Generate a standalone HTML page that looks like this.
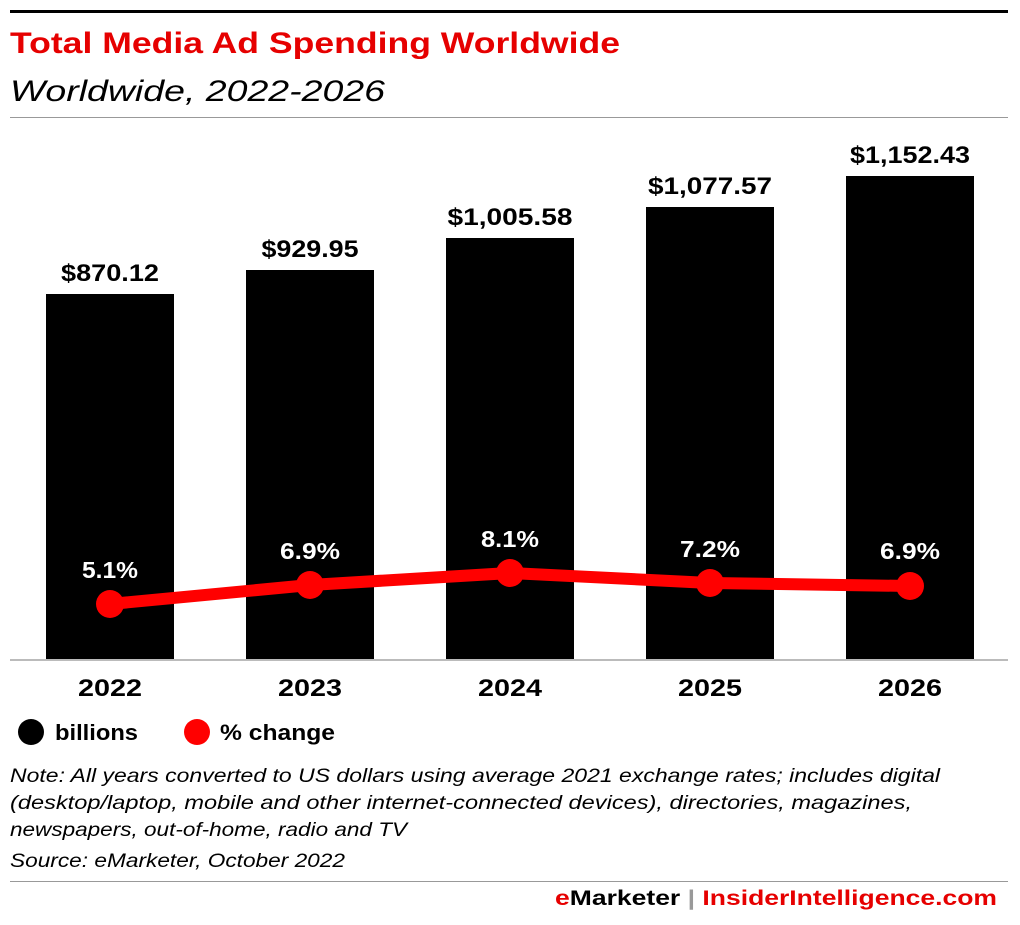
<!DOCTYPE html>
<html><head><meta charset="utf-8"><style>
body{margin:0;background:#fff;width:1020px;height:920px;overflow:hidden;font-family:"Liberation Sans",sans-serif}
</style></head><body>
<svg width="1020" height="920" xmlns="http://www.w3.org/2000/svg" font-family="Liberation Sans, sans-serif">
<rect x="10" y="10" width="998" height="3" fill="#000"/>
<text x="10" y="53" font-size="30" font-weight="bold" fill="#e60000" textLength="610" lengthAdjust="spacingAndGlyphs">Total Media Ad Spending Worldwide</text>
<text x="10" y="101" font-size="30" font-style="italic" fill="#000" textLength="375" lengthAdjust="spacingAndGlyphs">Worldwide, 2022-2026</text>
<rect x="10" y="117" width="998" height="1" fill="#999"/>
<g fill="#000">
<rect x="46" y="294" width="128" height="366"/>
<rect x="246" y="270" width="128" height="390"/>
<rect x="446" y="238" width="128" height="422"/>
<rect x="646" y="207" width="128" height="453"/>
<rect x="846" y="176" width="128" height="484"/>
</g>
<rect x="10" y="659" width="998" height="2" fill="#bbb"/>
<g font-size="24" font-weight="bold" text-anchor="middle" fill="#000">
<text x="110" y="281" textLength="98" lengthAdjust="spacingAndGlyphs">$870.12</text>
<text x="310" y="257" textLength="97" lengthAdjust="spacingAndGlyphs">$929.95</text>
<text x="510" y="225" textLength="125" lengthAdjust="spacingAndGlyphs">$1,005.58</text>
<text x="710" y="194" textLength="124" lengthAdjust="spacingAndGlyphs">$1,077.57</text>
<text x="910" y="163" textLength="120" lengthAdjust="spacingAndGlyphs">$1,152.43</text>
<text x="110" y="696" textLength="64" lengthAdjust="spacingAndGlyphs">2022</text>
<text x="310" y="696" textLength="64" lengthAdjust="spacingAndGlyphs">2023</text>
<text x="510" y="696" textLength="64" lengthAdjust="spacingAndGlyphs">2024</text>
<text x="710" y="696" textLength="64" lengthAdjust="spacingAndGlyphs">2025</text>
<text x="910" y="696" textLength="64" lengthAdjust="spacingAndGlyphs">2026</text>
</g>
<polyline points="110,604 310,585 510,573 710,583 910,586" fill="none" stroke="#ff0000" stroke-width="12" stroke-linejoin="round"/>
<g fill="#ff0000">
<circle cx="110" cy="604" r="14"/><circle cx="310" cy="585" r="14"/><circle cx="510" cy="573" r="14"/><circle cx="710" cy="583" r="14"/><circle cx="910" cy="586" r="14"/>
</g>
<g font-size="23" font-weight="bold" text-anchor="middle" fill="#fff">
<text x="110" y="578" textLength="56" lengthAdjust="spacingAndGlyphs">5.1%</text>
<text x="310" y="559" textLength="60" lengthAdjust="spacingAndGlyphs">6.9%</text>
<text x="510" y="547" textLength="58" lengthAdjust="spacingAndGlyphs">8.1%</text>
<text x="710" y="557" textLength="60" lengthAdjust="spacingAndGlyphs">7.2%</text>
<text x="910" y="559" textLength="60" lengthAdjust="spacingAndGlyphs">6.9%</text>
</g>
<circle cx="31" cy="732" r="13" fill="#000"/>
<text x="55" y="740" font-size="22" font-weight="bold" textLength="83" lengthAdjust="spacingAndGlyphs">billions</text>
<circle cx="197" cy="732" r="13" fill="#ff0000"/>
<text x="220" y="740" font-size="22" font-weight="bold" textLength="115" lengthAdjust="spacingAndGlyphs">% change</text>
<g font-size="19" font-style="italic" fill="#000">
<text x="10" y="782" textLength="930" lengthAdjust="spacingAndGlyphs">Note: All years converted to US dollars using average 2021 exchange rates; includes digital</text>
<text x="10" y="809" textLength="902" lengthAdjust="spacingAndGlyphs">(desktop/laptop, mobile and other internet-connected devices), directories, magazines,</text>
<text x="10" y="836" textLength="397" lengthAdjust="spacingAndGlyphs">newspapers, out-of-home, radio and TV</text>
<text x="10" y="867" textLength="335" lengthAdjust="spacingAndGlyphs">Source: eMarketer, October 2022</text>
</g>
<rect x="10" y="881" width="998" height="1" fill="#999"/>
<text x="997" y="905" font-size="21" font-weight="bold" text-anchor="end" textLength="442" lengthAdjust="spacingAndGlyphs"><tspan fill="#e60000">e</tspan><tspan fill="#000">Marketer</tspan><tspan fill="#999">  |  </tspan><tspan fill="#e60000">InsiderIntelligence.com</tspan></text>
</svg>
</body></html>
